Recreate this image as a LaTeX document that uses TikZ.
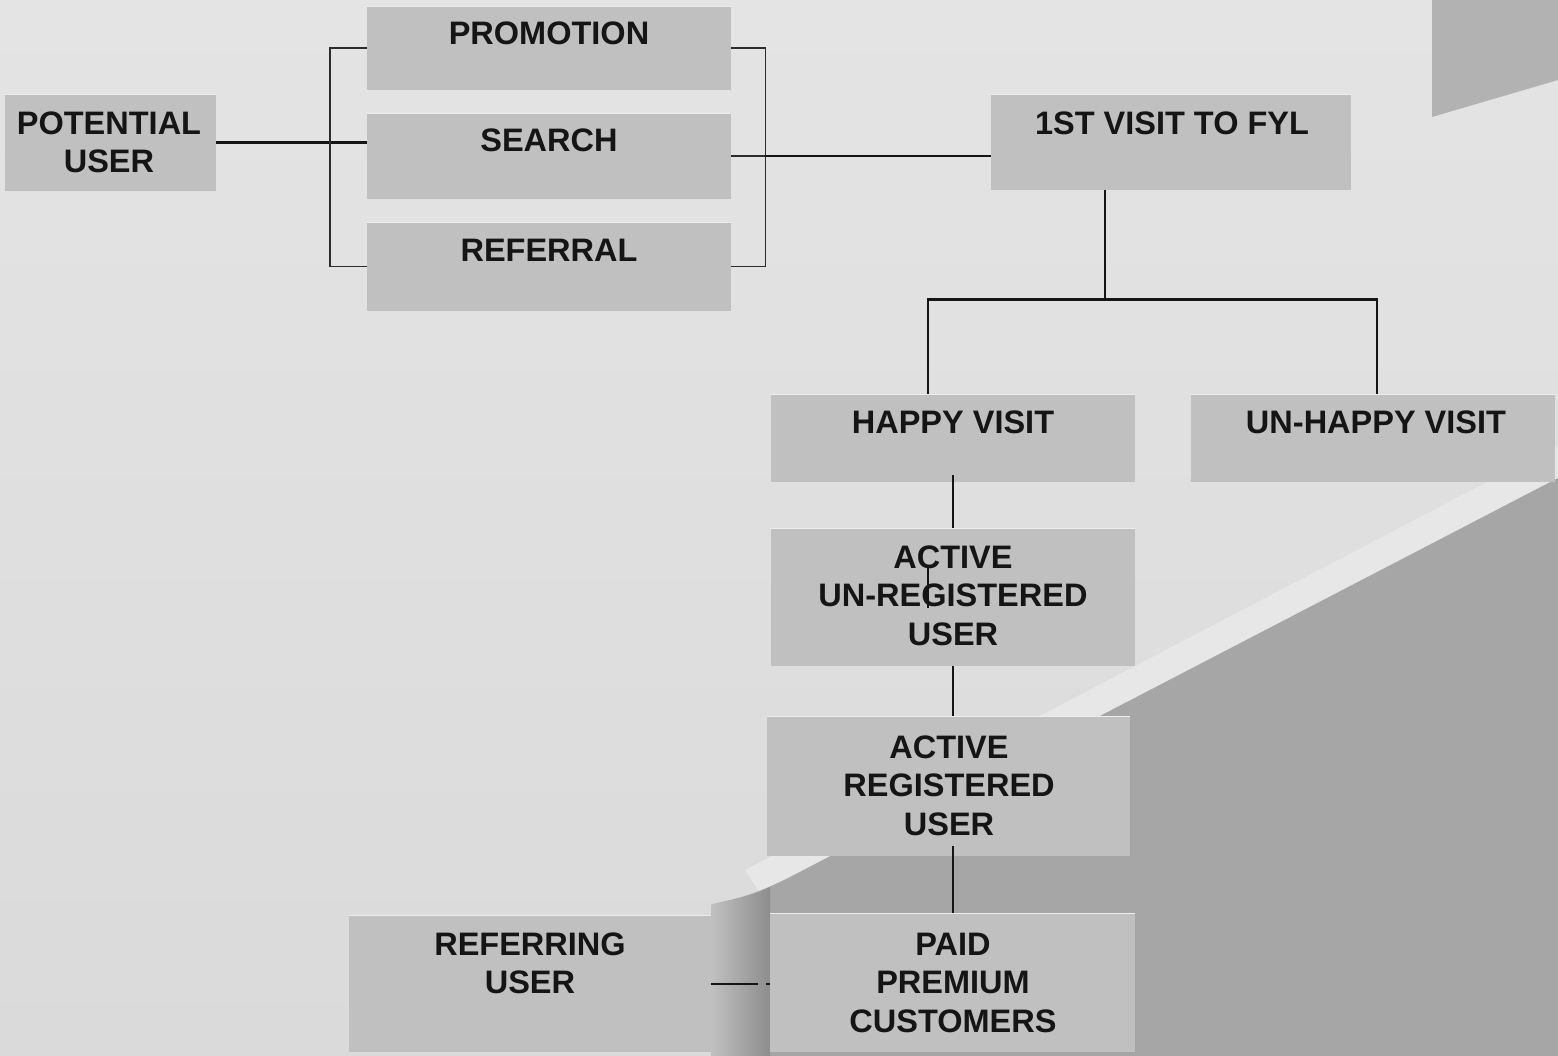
\documentclass[tikz,border=0pt]{standalone}
\usepackage{fontspec}
\setmainfont{Liberation Sans}
\definecolor{boxgray}{HTML}{C0C0C0}
\definecolor{boxedge}{HTML}{EDEDED}
\definecolor{wall}{HTML}{E0E0E0}
\definecolor{walltop}{HTML}{E4E4E4}
\definecolor{wallbot}{HTML}{DADADA}
\definecolor{shadow}{HTML}{A6A6A6}
\definecolor{shadowtop}{HTML}{B2B2B2}
\definecolor{glow}{HTML}{E7E7E7}
\definecolor{ink}{HTML}{151515}
\begin{document}
\begin{tikzpicture}[x=1pt,y=-1pt,
  box/.style={fill=boxgray, draw=none, inner sep=0pt, anchor=north west,
    path picture={\draw[boxedge,line width=2.5pt]
      (path picture bounding box.north west) -- (path picture bounding box.north east);}},
  lbl/.style={anchor=north, inner sep=0pt, align=center, text=ink,
    font=\fontsize{32.5}{38.5}\selectfont\bfseries},
  link/.style={draw=ink, line width=2.4pt},
  brace/.style={draw=ink!90, line width=1.5pt},
]
% backdrop: pale wall with a shadowed corner
\useasboundingbox (0,0) rectangle (1558,1056);
\shade[top color=walltop, bottom color=wallbot] (0,0) rectangle (1558,1056);
\fill[shadowtop] (1432,0) -- (1558,0) -- (1558,80) -- (1432,117) -- cycle;
\fill[glow] (1558,445) -- (1558,478) -- (760,893) -- (745,870) -- cycle;
\fill[shadow] (1558,478) -- (790,877) .. controls (745,900) and (725,900) .. (711,905)
  -- (711,1056) -- (1558,1056) -- cycle;
\shade[left color=shadow!55!wall, right color=shadow!85!black]
  (711,905) .. controls (725,900) and (745,900) .. (770,887) -- (770,1056) -- (711,1056) -- cycle;

% boxes
\node[box, minimum width=211pt, minimum height=97pt] (pot) at (5,94) {};
\node[box, minimum width=364pt, minimum height=84pt] (prom) at (367,6) {};
\node[box, minimum width=364pt, minimum height=86pt] (srch) at (367,113) {};
\node[box, minimum width=364pt, minimum height=89pt] (refl) at (367,222) {};
\node[box, minimum width=360pt, minimum height=96pt] (visit) at (991,94) {};
\node[box, minimum width=364pt, minimum height=88pt] (happy) at (771,394) {};
\node[box, minimum width=364pt, minimum height=88pt] (unhappy) at (1191,394) {};
\node[box, minimum width=364pt, minimum height=138pt] (aureg) at (771,528) {};
\node[box, minimum width=363pt, minimum height=140pt] (areg) at (767,716) {};
\node[box, minimum width=365pt, minimum height=139pt] (paid) at (770,913) {};
\node[box, minimum width=362pt, minimum height=137pt] (refu) at (349,915) {};

% labels
\node[lbl] (tpot) at (109,111.5) {POTENTIAL\\USER};
\node[lbl] (tprom) at (549,21.5) {PROMOTION};
\node[lbl] (tsrch) at (549,128.5) {SEARCH};
\node[lbl] (trefl) at (549,238.5) {REFERRAL};
\node[lbl] (tvisit) at (1172,111.5) {1ST VISIT TO FYL};
\node[lbl] (thappy) at (953,410.5) {HAPPY VISIT};
\node[lbl] (tunhappy) at (1376,410.5) {UN-HAPPY VISIT};
\node[lbl] (taureg) at (953,545.5) {ACTIVE\\UN-REGISTERED\\USER};
\node[lbl] (tareg) at (949,735.5) {ACTIVE\\REGISTERED\\USER};
\node[lbl] (tpaid) at (953,932.5) {PAID\\PREMIUM\\CUSTOMERS};
\node[lbl] (trefu) at (530,932.5) {REFERRING\\USER};

% connectors: sources fan out from the potential user
\draw[link, line width=3pt] (pot.east) -- (pot.east -| srch.west);
\draw[brace] (prom.west) -- ++(-37,0) |- (refl.west);
\draw[brace] (prom.east) -- ++(34,0) |- (refl.east);
\draw[brace] (srch.east) -- ++(34,0);
\draw[link] ([xshift=34pt]srch.east) -- (srch.east -| visit.west);

% first visit splits into happy / unhappy
\draw[link] ([xshift=-66pt]visit.south) -- ++(0,109) coordinate (fork);
\draw[link] ([xshift=-25pt]happy.north) |- (fork) -| ([xshift=4pt]unhappy.north);

% conversion chain
\draw[link] ([yshift=7pt]happy.south) -- (aureg.north);
\draw[line width=1.6pt, draw=ink] ([xshift=-25pt,yshift=-38pt]aureg.north) -- ++(0,42);
\draw[line width=1.6pt, draw=ink] ([xshift=-25pt,yshift=-39pt]aureg.north) -- ++(4,0);
\draw[link] (aureg.south) -- (aureg.south |- areg.north);
\draw[link] ([yshift=10pt]paid.north |- areg.south) -- (paid.north);
\draw[link, dash pattern=on 47pt off 8pt on 4pt off 10pt] (refu.east) -- (refu.east -| paid.west);
\end{tikzpicture}
\end{document}
